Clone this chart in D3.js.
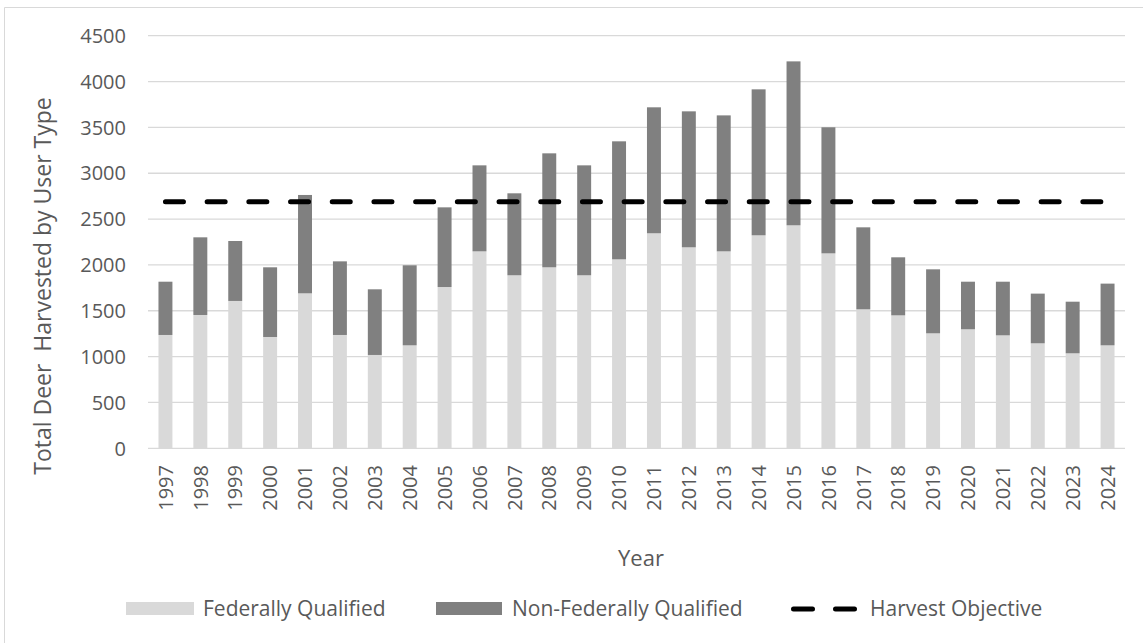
<!DOCTYPE html>
<html>
<head>
<meta charset="utf-8">
<script src="https://cdn.jsdelivr.net/npm/d3@7"></script>
<style>
  html, body { margin: 0; padding: 0; background: #fff; }
  svg { display: block; }
  text { font-family: "Open Sans", sans-serif; fill: #595959; }
</style>
</head>
<body>
<svg id="chart" width="1143" height="643"></svg>
<script>
const years = ["1997","1998","1999","2000","2001","2002","2003","2004","2005","2006","2007","2008","2009","2010","2011","2012","2013","2014","2015","2016","2017","2018","2019","2020","2021","2022","2023","2024"];
const federallyQualified = [1236,1454,1607,1214,1690,1236,1018,1123,1759,2148,1887,1974,1887,2061,2345,2192,2148,2323,2432,2126,1516,1450,1254,1298,1232,1145,1036,1123];
const totalHarvest = [1817,2301,2261,1974,2763,2039,1734,1996,2628,3086,2781,3217,3086,3348,3719,3675,3631,3915,4220,3501,2410,2083,1952,1817,1817,1687,1599,1796];
const nonFederallyQualified = totalHarvest.map((t, i) => t - federallyQualified[i]);
const harvestObjective = 2690;
const yTicks = [0,500,1000,1500,2000,2500,3000,3500,4000,4500];
const seriesNames = ["Federally Qualified", "Non-Federally Qualified", "Harvest Objective"];

const svg = d3.select("#chart");

// chart border
svg.append("path")
  .attr("d", "M4.5,643 V7.5 H1143")
  .attr("fill", "none")
  .attr("stroke", "#d9d9d9")
  .attr("stroke-width", 1);

const x = d3.scaleBand().domain(years).range([148, 1125]).paddingInner(0.6).paddingOuter(0.3);
const y = d3.scaleLinear().domain([0, 4500]).range([448.3, 35.7]);

// gridlines
svg.append("g").selectAll("line").data(yTicks).join("line")
  .attr("x1", 148).attr("x2", 1125)
  .attr("y1", d => y(d)).attr("y2", d => y(d))
  .attr("stroke", "#d9d9d9").attr("stroke-width", 1.3);

// y tick labels
svg.append("g").selectAll("text").data(yTicks).join("text")
  .attr("x", 126).attr("y", d => y(d)).attr("dy", "0.36em")
  .attr("text-anchor", "end")
  .style("font-size", "20px")
  .text(d => d);

// stacked bars
const data = years.map((yr, i) => ({ year: yr, fq: federallyQualified[i], nfq: nonFederallyQualified[i] }));
const stack = d3.stack().keys(["fq", "nfq"])(data);
const colors = { fq: "#d9d9d9", nfq: "#808080" };
svg.append("g").selectAll("g").data(stack).join("g")
  .attr("fill", d => colors[d.key])
  .selectAll("rect").data(d => d).join("rect")
  .attr("x", d => x(d.data.year))
  .attr("width", x.bandwidth())
  .attr("y", d => y(d[1]))
  .attr("height", d => y(d[0]) - y(d[1]));

// harvest objective line
const line = d3.line().x(d => x(d) + x.bandwidth() / 2).y(() => y(harvestObjective));
svg.append("path")
  .datum([years[0], years[years.length - 1]])
  .attr("d", line)
  .attr("fill", "none")
  .attr("stroke", "#000")
  .attr("stroke-width", 5)
  .attr("stroke-linecap", "round")
  .attr("stroke-dasharray", "18,23.7");

// x tick labels
svg.append("g").selectAll("text").data(years).join("text")
  .attr("transform", d => `translate(${x(d) + x.bandwidth() / 2},465) rotate(-90)`)
  .attr("dy", "0.36em")
  .attr("text-anchor", "end")
  .style("font-size", "20px")
  .text(d => d);

// axis titles
svg.append("text")
  .attr("x", 641).attr("y", 566)
  .attr("text-anchor", "middle")
  .style("font-size", "22px")
  .text("Year");

svg.append("text")
  .attr("transform", "translate(51,286) rotate(-90)")
  .attr("text-anchor", "middle")
  .style("font-size", "23px")
  .style("white-space", "pre")
  .attr("xml:space", "preserve")
  .text("Total Deer  Harvested by User Type");

// legend
const lg = svg.append("g");
lg.append("rect").attr("x", 126).attr("y", 602).attr("width", 68).attr("height", 13).attr("fill", colors.fq);
lg.append("text").attr("x", 203).attr("y", 616).style("font-size", "21px").text(seriesNames[0]);
lg.append("rect").attr("x", 436).attr("y", 602).attr("width", 66).attr("height", 13).attr("fill", colors.nfq);
lg.append("text").attr("x", 512).attr("y", 616).style("font-size", "21px").text(seriesNames[1]);
lg.append("path").attr("d", "M793.5,609 H812.5 M835.5,609 H854.5")
  .attr("stroke", "#000").attr("stroke-width", 5).attr("stroke-linecap", "round");
lg.append("text").attr("x", 870).attr("y", 616).style("font-size", "21px").text(seriesNames[2]);
</script>
</body>
</html>
